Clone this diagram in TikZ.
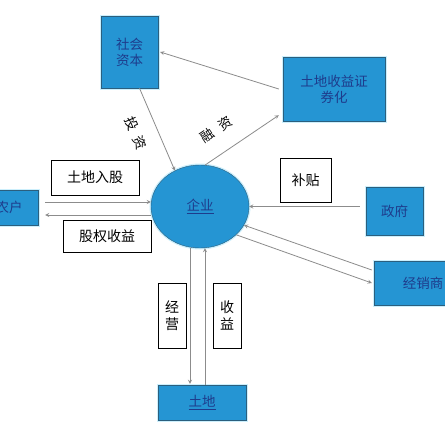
\documentclass[tikz,border=0pt]{standalone}
\usepackage{fontspec}
\setmainfont{Noto Sans CJK SC}
\usepackage{xcolor}
\usepackage{tikz}
\usetikzlibrary{shapes.geometric}

\definecolor{boxblue}{HTML}{2595D3}
\definecolor{boxedge}{HTML}{2B5F7E}
\definecolor{boxtext}{HTML}{1E3C8C}
\definecolor{linegray}{HTML}{8C8C8C}

\begin{document}
\begin{tikzpicture}[
    x=1pt, y=-1pt,
    font=\fontsize{13.5pt}{16pt}\selectfont,
    unit/.style={rectangle, draw=boxedge, fill=boxblue, text=boxtext, align=center, inner sep=0pt,
        preaction={draw=cyan!20, line width=3pt}},
    tag/.style={rectangle, draw=black, fill=white, align=center, inner sep=0pt, font=\fontsize{14pt}{17pt}\selectfont},
    arrow/.style={->, >=stealth, draw=linegray, line width=0.8pt}
]
    \clip (0,0) rectangle (445,445);
    \fill[white] (0,0) rectangle (445,445);

    % Capital layer
    \node[unit, minimum width=57pt, minimum height=72pt] (shehui) at (129.5, 52) {社会\\资本};
    \node[unit, minimum width=102pt, minimum height=64pt] (zhengquan) at (334, 89) {土地收益证\\券化};

    % Enterprise
    \node[ellipse, draw=boxedge, fill=boxblue, text=boxtext, minimum width=98pt, minimum height=83pt,
        preaction={draw=cyan!20, line width=3pt}] (qiye) at (200, 206.5) {\underline{企业}};

    % Partners
    \node[unit, minimum width=58pt, minimum height=35pt] (nonghu) at (9, 207.5) {农户};
    \node[unit, minimum width=57pt, minimum height=48pt] (zhengfu) at (394.5, 211) {政府};
    \node[unit, minimum width=98pt, minimum height=44pt] (jingxiao) at (423, 283) {经销商};
    \node[unit, minimum width=88pt, minimum height=35pt] (tudi) at (202, 402.5) {\underline{土地}};

    % Flow labels
    \node[tag, minimum width=88pt, minimum height=35pt] (rugu) at (95, 177.5) {土地入股};
    \node[tag, minimum width=88pt, minimum height=32pt] (guquan) at (107, 236) {股权收益};
    \node[tag, minimum width=51pt, minimum height=44pt] (butie) at (305.5, 180) {补贴};
    \node[tag, minimum width=28pt, minimum height=65pt] (jingying) at (172, 315.5) {经\\营};
    \node[tag, minimum width=28pt, minimum height=65pt] (shouyi) at (227, 315.5) {收\\益};

    % Arrows
    \draw[arrow] ([xshift=-4pt]zhengquan.west) -- ([xshift=2pt]shehui.east);
    \draw[arrow] ([xshift=10pt]shehui.south) -- node[pos=0.45, sloped, below=11pt, text=black] {投\hspace{7pt}资} (qiye.125);
    \draw[arrow] (qiye.83) -- node[pos=0.33, sloped, above=13pt, text=black] {融\hspace{8pt}资} ([xshift=-4pt, yshift=6pt]zhengquan.south west);
    \draw[arrow] ([xshift=7pt, yshift=5.5pt]nonghu.east) -- ([yshift=5.5pt]nonghu.east -| qiye.west);
    \draw[arrow] ([yshift=-7.5pt]nonghu.east -| qiye.west) -- ([xshift=7pt, yshift=-7.5pt]nonghu.east);
    \draw[arrow] ([xshift=-6pt]zhengfu.west |- qiye.east) -- (qiye.east);
    \draw[arrow] ([xshift=-2pt, yshift=13pt]jingxiao.west) -- (qiye.-23);
    \draw[arrow] (qiye.-38) -- ([xshift=-2pt]jingxiao.west);
    \draw[arrow, shorten >=1pt] ([xshift=-12pt]tudi.north |- qiye.-101) -- ([xshift=-12pt]tudi.north);
    \draw[arrow] ([xshift=3pt]tudi.north) -- ([xshift=3pt]tudi.north |- qiye.-86);
\end{tikzpicture}
\end{document}
